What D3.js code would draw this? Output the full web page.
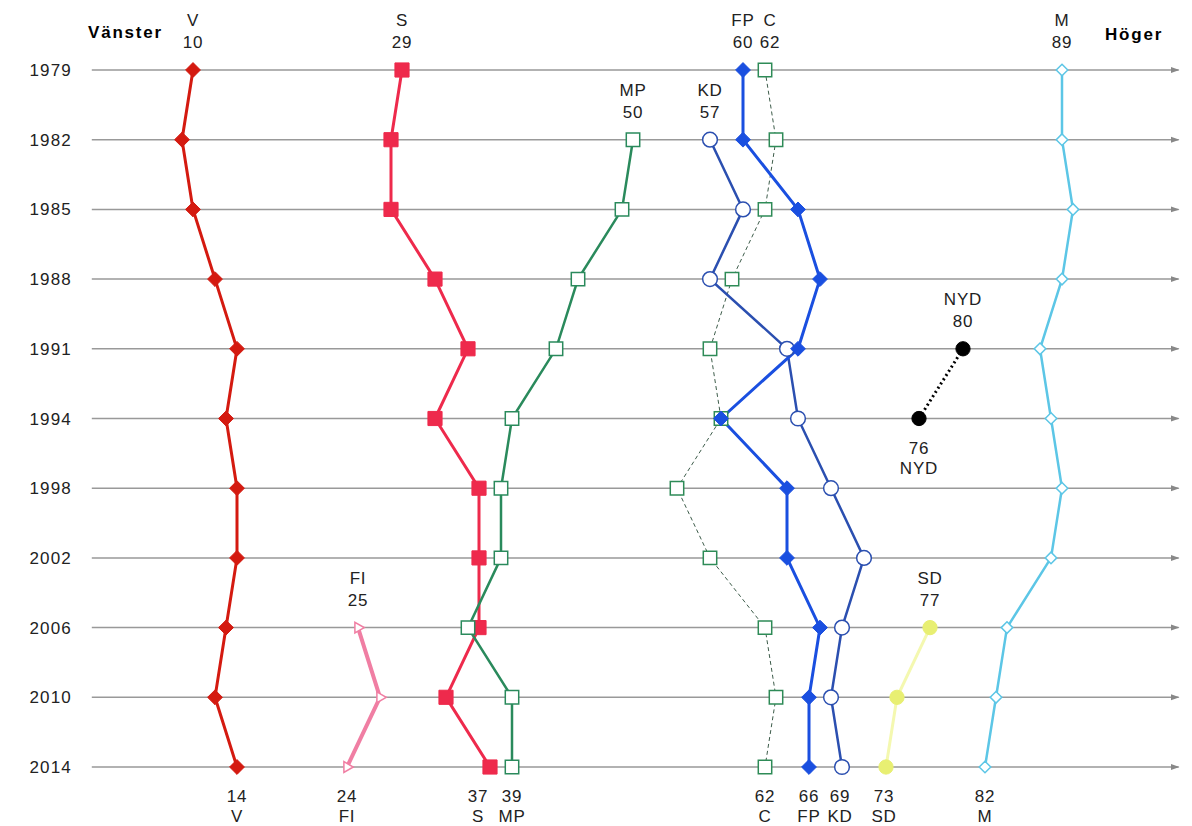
<!DOCTYPE html>
<html>
<head>
<meta charset="utf-8">
<script src="https://cdn.jsdelivr.net/npm/d3@7"></script>
<style>
  body { margin: 0; background: #fff; }
  text { font-family: "Liberation Sans", Arial, sans-serif; }
</style>
</head>
<body>
<div id="chart"></div>
<script>
const years = [1979, 1982, 1985, 1988, 1991, 1994, 1998, 2002, 2006, 2010, 2014];

// position on the left-right scale, null = not in the study that year
const vValues   = [10, 9, 10, 12, 14, 13, 14, 14, 13, 12, 14];
const sValues   = [29, 28, 28, 32, 35, 32, 36, 36, 36, 33, 37];
const mpValues  = [null, 50, 49, 45, 43, 39, 38, 38, 35, 39, 39];
const cValues   = [62, 63, 62, 59, 57, 58, 54, 57, 62, 63, 62];
const fpValues  = [60, 60, 65, 67, 65, 58, 64, 64, 67, 66, 66];
const kdValues  = [null, 57, 60, 57, 64, 65, 68, 71, 69, 68, 69];
const mValues   = [89, 89, 90, 89, 87, 88, 89, 88, 84, 83, 82];
const fiValues  = [null, null, null, null, null, null, null, null, 25, 27, 24];
const nydValues = [null, null, null, null, 80, 76, null, null, null, null, null];
const sdValues  = [null, null, null, null, null, null, null, null, 77, 74, 73];

const parties = [
  { name: "C",   values: cValues,   color: "#2e8b57", line: "#3d5c4a", width: 1,   dash: "4,3", symbol: "square",  fill: "#fff", size: 180 },
  { name: "V",   values: vValues,   color: "#d41a10", width: 3,   symbol: "diamond", size: 140 },
  { name: "S",   values: sValues,   color: "#ee2a4c", width: 3,   symbol: "square",  size: 200 },
  { name: "MP",  values: mpValues,  color: "#2a8a5c", width: 2.5, symbol: "square",  fill: "#fff", size: 180 },
  { name: "FI",  values: fiValues,  color: "#f07ea3", width: 4,   symbol: "triangle", fill: "#fff", size: 50 },
  { name: "KD",  values: kdValues,  color: "#2b4fb0", width: 2.5, symbol: "circle",  fill: "#fff", size: 170 },
  { name: "FP",  values: fpValues,  color: "#1a4fe0", width: 3,   symbol: "diamond", size: 140 },
  { name: "NYD", values: nydValues, color: "#000",    width: 3,   dash: "2,3", symbol: "circle", size: 160 },
  { name: "SD",  values: sdValues,  color: "#e8ef72", line: "#f4f8b0", width: 3, symbol: "circle", size: 160 },
  { name: "M",   values: mValues,   color: "#5cc6e6", width: 2.5, symbol: "diamond", fill: "#fff", size: 85 }
];

const width = 1192, height = 826;

const svg = d3.select("#chart")
  .append("svg")
  .attr("width", width)
  .attr("height", height);

const x = d3.scaleLinear().domain([0, 100]).range([83, 1183]);
const y = d3.scalePoint().domain(years).range([70, 767]);

svg.append("defs").append("marker")
  .attr("id", "arrow")
  .attr("viewBox", "0 0 10 10")
  .attr("refX", 9).attr("refY", 5)
  .attr("markerWidth", 6).attr("markerHeight", 6)
  .attr("orient", "auto")
  .append("path")
  .attr("d", "M0,1.5L10,5L0,8.5Z")
  .attr("fill", "#888");

// year rows
svg.append("g")
  .selectAll("line")
  .data(years)
  .join("line")
  .attr("x1", x(0.8))
  .attr("x2", x(99.6))
  .attr("y1", d => y(d))
  .attr("y2", d => y(d))
  .attr("stroke", "#999")
  .attr("stroke-width", 1.5)
  .attr("marker-end", "url(#arrow)");

svg.append("g")
  .selectAll("text")
  .data(years)
  .join("text")
  .attr("x", 72)
  .attr("y", d => y(d) + 6)
  .attr("text-anchor", "end")
  .attr("font-size", 17)
  .attr("letter-spacing", 1.2)
  .attr("fill", "#222")
  .text(d => d);

svg.append("text").attr("x", 88).attr("y", 38)
  .attr("font-size", 17).attr("letter-spacing", 1.8).attr("font-weight", "bold").text("Vänster");
svg.append("text").attr("x", 1105).attr("y", 40)
  .attr("font-size", 17).attr("letter-spacing", 1.8).attr("font-weight", "bold").text("Höger");

const pts = p => p.values.map((v, i) => ({ year: years[i], v })).filter(d => d.v != null);

const line = d3.line()
  .x(d => x(d.v))
  .y(d => y(d.year));

const symbols = {
  circle: d3.symbolCircle,
  square: d3.symbolSquare,
  diamond: d3.symbolDiamond2,
  triangle: d3.symbolTriangle
};

parties.forEach(p => {
  svg.append("path")
    .datum(pts(p))
    .attr("d", line)
    .attr("fill", "none")
    .attr("stroke", p.line || p.color)
    .attr("stroke-width", p.width)
    .attr("stroke-dasharray", p.dash || null);
});

parties.forEach(p => {
  const sym = d3.symbol().type(symbols[p.symbol]).size(p.size);
  svg.append("g")
    .selectAll("path")
    .data(pts(p))
    .join("path")
    .attr("d", sym)
    .attr("transform", d => `translate(${x(d.v)},${y(d.year)})` + (p.symbol === "triangle" ? " rotate(90)" : ""))
    .attr("fill", p.fill || p.color)
    .attr("stroke", p.color)
    .attr("stroke-width", p.fill ? 1.5 : 1);
});

// party name and value at first and last year
const topShift = { C: 5 };
const bottomShift = { S: -12, KD: -2, SD: -2 };

parties.forEach(p => {
  const d = pts(p);
  const first = d[0], last = d[d.length - 1];
  const tx = x(first.v) + (topShift[p.name] || 0);
  const ty = y(first.year);
  const top = svg.append("text")
    .attr("text-anchor", "middle").attr("font-size", 17).attr("letter-spacing", 0.8).attr("fill", "#222");
  top.append("tspan").attr("x", tx).attr("y", ty - 44).text(p.name);
  top.append("tspan").attr("x", tx).attr("y", ty - 22).text(first.v);

  const bx = x(last.v) + (bottomShift[p.name] || 0);
  const by = y(last.year);
  const bottom = svg.append("text")
    .attr("text-anchor", "middle").attr("font-size", 17).attr("letter-spacing", 0.8).attr("fill", "#222");
  bottom.append("tspan").attr("x", bx).attr("y", by + 35).text(last.v);
  bottom.append("tspan").attr("x", bx).attr("y", by + 55).text(p.name);
});
</script>
</body>
</html>
